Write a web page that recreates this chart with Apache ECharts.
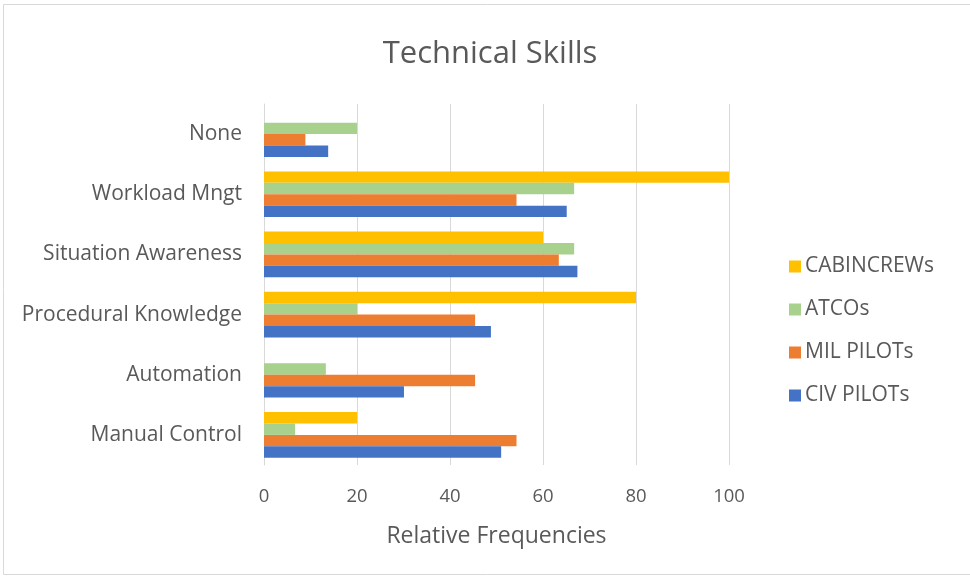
<!DOCTYPE html>
<html>
<head>
<meta charset="utf-8">
<script src="https://cdn.jsdelivr.net/npm/echarts@6/dist/echarts.min.js"></script>
<style>
  html, body { margin: 0; padding: 0; background: #ffffff; }
  #chart { width: 970px; height: 580px; }
</style>
</head>
<body>
<div id="chart"></div>
<script>
// Skill categories, listed from the bottom of the axis to the top
const categories = ['Manual Control', 'Automation', 'Procedural Knowledge', 'Situation Awareness', 'Workload Mngt', 'None'];

// Relative frequencies (%) per group
const civPilots  = [51.0, 30.1, 48.8, 67.4, 65.1, 13.8];
const milPilots  = [54.3, 45.4, 45.4, 63.4, 54.3, 8.9];
const atcos      = [6.7, 13.3, 20.0, 66.7, 66.7, 20.0];
const cabinCrews = [20.0, 0, 80.0, 60.0, 100.0, 0];

const xTicks = [0, 20, 40, 60, 80, 100];

const textColor = '#595959';
const fontFamily = '"Open Sans", Lato, sans-serif';

const chart = echarts.init(document.getElementById('chart'));

// Within each category the first series is drawn on top, so the
// series list runs from the top bar (cabin crews) down to civil pilots.
chart.setOption({
  backgroundColor: '#ffffff',
  textStyle: { fontFamily: fontFamily },
  graphic: [{
    type: 'rect',
    shape: { x: 3.5, y: 4.5, width: 990, height: 570 },
    style: { fill: 'none', stroke: '#d9d9d9', lineWidth: 1 },
    silent: true
  }],
  title: {
    text: 'Technical Skills',
    left: 485,
    textAlign: 'center',
    top: 34,
    textStyle: { fontSize: 31, fontWeight: 'normal', color: textColor, fontFamily: fontFamily }
  },
  legend: {
    orient: 'vertical',
    left: 784,
    top: 251,
    itemGap: 22,
    itemWidth: 12,
    itemHeight: 12,
    icon: 'rect',
    data: ['CABINCREWs', 'ATCOs', 'MIL PILOTs', 'CIV PILOTs'],
    textStyle: { fontSize: 21, color: textColor, fontFamily: fontFamily, padding: [0, 0, 0, -1] }
  },
  grid: {
    left: 264,
    right: 241,
    top: 104,
    bottom: 115,
    containLabel: false
  },
  xAxis: {
    type: 'value',
    min: xTicks[0],
    max: xTicks[xTicks.length - 1],
    interval: 20,
    name: 'Relative Frequencies',
    nameLocation: 'middle',
    nameGap: 60,
    nameTextStyle: { fontSize: 23, color: textColor, fontFamily: fontFamily },
    axisLine: { show: false },
    axisTick: { show: false },
    axisLabel: { fontSize: 18.5, color: textColor, margin: 22, fontFamily: fontFamily },
    splitLine: { show: true, lineStyle: { color: '#d9d9d9', width: 1 } }
  },
  yAxis: {
    type: 'category',
    data: categories,
    axisLine: { show: true, lineStyle: { color: '#d9d9d9' } },
    axisTick: { show: false },
    axisLabel: { fontSize: 21, color: textColor, margin: 22, fontFamily: fontFamily, padding: [4, 0, 0, 0] }
  },
  series: [
    { name: 'CABINCREWs', type: 'bar', data: cabinCrews, itemStyle: { color: '#FFC000' }, barGap: '0%', barCategoryGap: '24%' },
    { name: 'ATCOs', type: 'bar', data: atcos, itemStyle: { color: '#A9D18E' }, barGap: '0%', barCategoryGap: '24%' },
    { name: 'MIL PILOTs', type: 'bar', data: milPilots, itemStyle: { color: '#ED7D31' }, barGap: '0%', barCategoryGap: '24%' },
    { name: 'CIV PILOTs', type: 'bar', data: civPilots, itemStyle: { color: '#4472C4' }, barGap: '0%', barCategoryGap: '24%' }
  ],
  animation: false
});
</script>
</body>
</html>
